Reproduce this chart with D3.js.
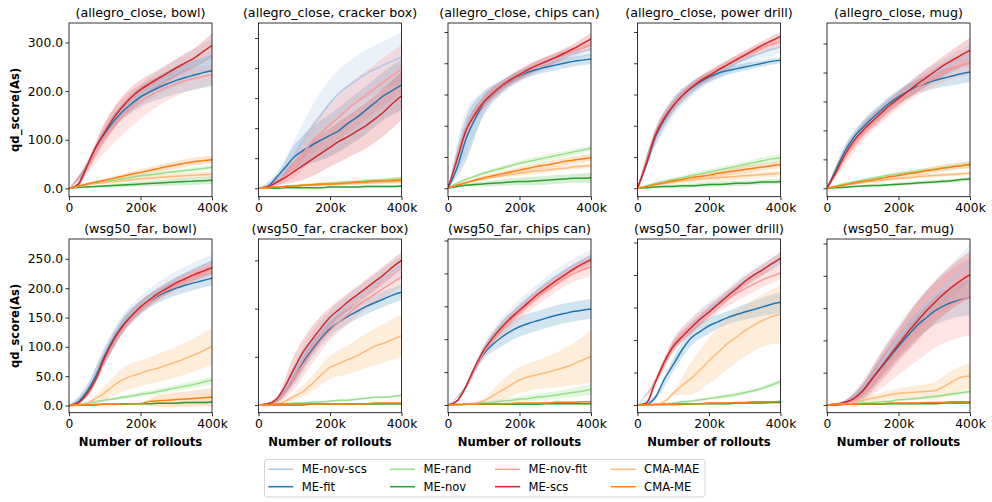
<!DOCTYPE html>
<html><head><meta charset="utf-8">
<script src="https://cdn.jsdelivr.net/npm/d3@7"></script>
<style>body{margin:0;background:#fff}svg{font-family:"DejaVu Sans",sans-serif}</style>
</head><body><svg id="c" width="992" height="502"></svg>
<script>
// ---------------- DATA ----------------
const xSteps = [0,25000,50000,75000,100000,125000,150000,175000,200000,225000,250000,275000,300000,325000,350000,375000,400000];
const bandSteps = [0,50000,100000,150000,200000,250000,300000,350000,400000];
const seriesNames = ["ME-nov-scs","ME-fit","ME-rand","ME-nov","ME-nov-fit","ME-scs","CMA-MAE","CMA-ME"];
const seriesColors = ["#aec7e8","#1f77b4","#98df8a","#2ca02c","#ff9896","#d62728","#ffbb78","#ff7f0e"];
const panelTitles = ["(allegro_close, bowl)","(allegro_close, cracker box)","(allegro_close, chips can)","(allegro_close, power drill)","(allegro_close, mug)",
  "(wsg50_far, bowl)","(wsg50_far, cracker box)","(wsg50_far, chips can)","(wsg50_far, power drill)","(wsg50_far, mug)"];
const xTickValues = [0,200000,400000];
const xTickLabels = ["0","200k","400k"];
const yLimits = [[-17,340],[-14,275],[-13.5,264.4],[-13.5,264.4],[-14.5,285.5],[-12.3,283.8],[-8,172.2],[-11.7,252.3],[-11.8,255.4],[-11.9,257]];
const yTickSets = [[0,100,200,300],[0,50,100,150,200,250],[0,50,100,150,200,250],[0,50,100,150,200,250],[0,50,100,150,200,250],
  [0,50,100,150,200,250],[0,50,100,150],[0,50,100,150,200,250],[0,50,100,150,200,250],[0,50,100,150,200,250]];
const xLabel = "Number of rollouts";
const yLabel = "qd_score(As)";

// series order in each matrix row: nov-scs, fit, rand, nov, nov-fit, scs, CMA-MAE, CMA-ME
const meanAllegroBowl = [
 [0,8,44,84,112,138,158,176,192,205,217,228,238,248,257,266,275],
 [0,8,45,85,113,138,158,174,188,198,207,215,222,228,233,238,242],
 [0,4,8,11,14,17,20,23,26,28,30,33,35,37,39,41,43],
 [0,2,3,4,5,6,7,8,9,10,11,12,13,14,15,16,17],
 [0,6,40,78,105,128,148,164,178,190,200,208,215,221,226,230,234],
 [0,8,45,85,115,145,168,188,203,215,226,237,248,258,268,281,294],
 [0,4,7,10,12,14,16,18,20,21,23,24,25,26,27,28,29],
 [0,5,9,13,17,21,25,29,33,37,41,45,48,52,55,57,59]];
const spreadAllegroBowl = [
 [0,6,12,18,22,25,28,30,32],[0,6,12,16,20,24,28,30,32],[0,1,2,3,3,4,4,4,5],[0,1,3,4,5,6,7,8,8],
 [0,10,30,38,35,30,25,22,20],[0,10,20,22,20,18,18,20,25],[0,2,3,4,5,5,6,6,6],[0,2,3,5,6,7,8,8,8]];

const meanAllegroCracker = [
 [0,2,10,30,55,80,102,122,142,158,170,180,190,198,205,212,218],
 [0,3,18,35,52,63,72,80,88,96,108,118,130,142,154,163,172],
 [0,1,2,3,4,5,6,7,8,9,10,11,12,13,14,15,16],
 [0,0,0,1,1,1,1,1,2,2,2,2,3,3,3,3,4],
 [0,2,10,22,38,58,78,92,106,118,132,144,155,166,177,188,199],
 [0,2,10,18,28,38,48,58,68,78,86,95,104,115,127,141,154],
 [0,1,2,3,4,5,5,6,7,7,8,9,9,10,11,11,12],
 [0,1,2,3,4,5,6,7,7,8,9,10,11,12,12,13,14]];
const spreadAllegroCracker = [
 [0,8,25,35,40,40,40,40,42],[0,6,20,30,35,38,40,40,42],[0,1,2,2,3,3,3,3,4],[0,0,1,1,1,1,2,2,2],
 [0,5,20,30,35,40,40,40,40],[0,5,18,28,32,35,38,40,40],[0,1,2,2,3,3,3,3,4],[0,1,2,3,3,4,4,4,5]];

const meanAllegroChips = [
 [0,40,88,115,136,150,162,172,180,188,195,200,205,210,215,219,223],
 [0,32,78,110,136,150,162,172,180,186,190,194,197,200,203,205,207],
 [0,8,14,19,24,28,32,36,40,43,46,49,52,55,58,61,64],
 [0,3,5,6,7,8,9,10,11,11,12,13,14,15,16,16,17],
 [0,45,90,117,137,151,163,173,181,189,196,202,208,214,219,224,229],
 [0,45,92,118,138,152,164,174,182,190,197,203,209,216,223,231,239],
 [0,5,9,12,15,18,20,22,24,26,28,29,31,32,34,35,36],
 [0,5,9,13,17,20,23,26,29,32,35,37,40,43,45,47,49]];
const spreadAllegroChips = [
 [0,35,20,12,10,10,10,10,10],[0,35,18,10,8,8,8,8,8],[0,2,3,4,4,5,5,5,5],[0,2,4,5,6,7,7,7,8],
 [0,10,10,8,8,8,8,8,8],[0,10,10,8,8,8,8,8,10],[0,2,3,3,4,4,4,4,4],[0,2,3,4,5,5,6,6,6]];

const meanAllegroDrill = [
 [0,37,80,108,130,146,158,169,178,186,193,200,206,212,217,222,226],
 [0,38,82,110,132,148,160,170,178,184,188,191,194,197,200,203,205],
 [0,4,8,11,14,17,20,23,26,29,32,35,38,41,44,47,49],
 [0,1,2,3,3,4,4,5,6,6,7,8,8,9,10,10,11],
 [0,42,86,113,133,149,162,173,182,190,198,206,213,219,225,230,234],
 [0,40,85,112,132,148,161,172,180,189,197,205,213,221,229,236,243],
 [0,3,6,8,10,12,13,15,16,17,18,19,20,21,22,23,24],
 [0,3,6,9,12,14,17,19,21,24,26,28,30,32,34,36,38]];
const spreadAllegroDrill = [
 [0,15,15,12,10,10,10,10,10],[0,12,12,10,8,7,6,5,5],[0,2,3,4,5,5,5,6,6],[0,2,3,3,4,4,4,4,4],
 [0,10,8,7,7,7,7,7,7],[0,8,8,7,7,7,7,7,7],[0,2,3,4,5,5,5,5,5],[0,2,3,4,5,5,6,6,6]];

const meanAllegroMug = [
 [0,30,62,86,103,118,132,145,157,169,180,190,199,208,216,223,230],
 [0,32,64,88,105,120,134,147,158,167,175,181,186,190,194,198,201],
 [0,4,8,11,14,17,20,23,25,27,29,31,33,35,37,39,41],
 [0,1,2,3,4,5,5,6,7,8,9,10,11,12,13,15,16],
 [0,24,52,76,94,110,124,138,150,162,173,183,192,200,207,212,216],
 [0,28,58,82,100,115,129,143,155,167,179,190,201,212,221,230,238],
 [0,3,6,8,10,12,14,15,17,18,20,21,22,23,24,25,26],
 [0,3,6,9,12,14,17,20,22,25,27,30,32,35,37,39,41]];
const spreadAllegroMug = [
 [0,10,12,12,12,14,15,16,18],[0,10,12,12,12,12,14,16,18],[0,2,3,3,4,4,4,5,5],[0,1,2,2,3,3,3,3,3],
 [0,12,12,12,12,14,16,18,20],[0,10,12,12,12,14,16,18,22],[0,2,2,3,3,3,3,3,3],[0,2,3,4,5,5,6,6,6]];

const meanWsgBowl = [
 [0,6,24,50,86,116,139,157,172,185,197,207,216,224,232,239,246],
 [0,6,24,50,85,114,136,153,167,178,187,194,200,205,209,213,217],
 [0,2,4,6,9,11,14,16,19,21,24,27,30,33,36,40,43],
 [0,1,1,1,2,2,2,3,3,3,4,4,4,5,5,5,6],
 [0,4,19,43,79,110,133,151,166,178,189,198,206,213,220,226,232],
 [0,4,20,45,82,112,135,153,168,180,191,200,209,216,223,229,235],
 [0,1,4,12,22,34,44,50,55,60,64,69,74,80,86,93,101],
 [0,1,1,2,2,2,3,3,3,7,8,9,10,11,12,13,14]];
const spreadWsgBowl = [
 [0,10,15,15,14,13,13,12,12],[0,10,14,14,12,12,12,12,12],[0,1,2,3,4,5,5,6,6],[0,1,1,1,1,1,2,2,2],
 [0,6,10,10,10,10,10,10,10],[0,5,10,10,10,10,10,10,10],[0,2,12,20,22,24,26,28,32],[0,1,1,1,2,10,12,14,15]];

const meanWsgCracker = [
 [0,1,5,18,35,52,66,78,88,96,104,111,118,125,132,139,145],
 [0,1,4,14,28,44,57,69,79,86,92,97,102,106,110,114,117],
 [0,0,1,1,2,2,3,3,4,5,5,6,7,8,8,9,10],
 [0,0,0,0,0,0,1,1,1,1,1,1,1,1,1,1,1],
 [0,1,4,14,28,42,55,67,77,86,94,102,109,115,121,127,133],
 [0,1,6,20,38,55,68,80,91,99,107,114,121,128,135,143,150],
 [0,0,1,4,9,14,22,31,39,43,47,51,56,61,64,68,72],
 [0,0,1,1,1,1,1,1,1,1,1,1,1,2,2,2,2]];
const spreadWsgCracker = [
 [0,2,8,10,10,10,10,10,10],[0,2,7,8,8,8,8,8,8],[0,0,1,1,1,1,1,1,1],[0,0,0,0,0,0,0,0,0],
 [0,2,12,12,10,10,10,10,10],[0,2,14,14,10,9,9,9,9],[0,1,4,8,12,15,18,20,22],[0,0,0,1,1,1,1,1,1]];

const meanWsgChips = [
 [0,6,28,58,84,106,122,137,150,162,174,185,195,204,212,219,226],
 [0,6,28,56,78,92,103,112,119,124,128,132,136,139,142,144,146],
 [0,0,1,2,3,4,6,7,9,10,12,13,15,17,19,21,24],
 [0,0,1,1,1,1,1,1,1,1,1,2,2,2,2,2,2],
 [0,6,27,56,80,100,115,129,141,153,164,174,183,192,199,205,210],
 [0,6,28,58,83,102,118,132,144,156,168,178,188,197,206,214,221],
 [0,0,1,3,6,14,22,30,38,43,46,49,53,57,62,68,74],
 [0,1,1,1,2,2,2,2,3,3,3,3,4,4,4,5,5]];
const spreadWsgChips = [
 [0,2,8,10,10,10,10,10,10],[0,2,8,14,15,15,15,15,15],[0,0,2,3,4,5,6,7,8],[0,0,0,0,1,1,1,1,1],
 [0,2,8,12,12,12,12,12,14],[0,2,6,8,8,8,8,8,8],[0,0,4,15,20,22,26,32,40],[0,1,1,1,1,1,1,1,1]];

const meanWsgDrill = [
 [0,3,37,68,92,108,122,135,147,158,169,180,191,200,209,216,223],
 [0,1,12,40,62,85,103,113,122,128,134,139,143,147,151,155,158],
 [0,1,1,2,3,5,6,8,10,12,14,16,19,22,26,31,36],
 [0,0,1,1,1,1,2,2,2,2,2,3,3,3,3,4,4],
 [0,3,37,68,92,108,121,133,144,154,163,171,179,186,193,198,203],
 [0,3,35,66,90,105,119,132,143,155,167,178,190,200,208,217,226],
 [0,0,1,5,18,30,41,54,68,81,94,104,114,123,130,136,140],
 [0,0,1,1,1,2,2,2,3,3,3,4,4,5,5,5,6]];
const spreadWsgDrill = [
 [0,4,10,12,12,10,10,10,10],[0,3,10,12,12,10,12,14,16],[0,0,1,2,2,3,3,3,4],[0,0,0,1,1,1,1,1,1],
 [0,4,10,12,12,12,12,12,10],[0,3,8,8,8,8,8,8,10],[0,0,3,25,35,40,40,40,45],[0,0,1,1,1,1,1,1,1]];

const meanWsgMug = [
 [0,1,4,10,24,43,63,84,104,122,138,154,168,181,194,207,220],
 [0,1,4,10,22,40,57,74,91,107,122,134,145,153,159,163,167],
 [0,0,1,2,3,4,5,6,8,9,10,12,13,15,17,19,21],
 [0,0,1,1,1,1,1,2,2,2,2,2,2,3,3,3,3],
 [0,1,3,8,18,34,50,66,82,98,113,127,138,148,156,162,168],
 [0,1,4,10,22,40,58,76,94,112,128,144,158,171,183,193,202],
 [0,1,2,4,7,10,13,16,18,19,20,21,22,28,36,43,45],
 [0,1,1,1,2,2,2,3,3,3,3,4,4,4,5,5,5]];
const spreadWsgMug = [
 [0,3,10,18,20,22,24,26,28],[0,3,10,15,18,20,22,25,28],[0,0,1,1,2,2,2,3,3],[0,0,0,1,1,1,1,1,1],
 [0,3,12,25,35,45,50,55,60],[0,4,14,22,26,30,32,34,36],[0,1,3,6,8,10,14,18,20],[0,0,1,1,1,1,1,1,1]];

// ---------------- TABLE ----------------
const means = [meanAllegroBowl,meanAllegroCracker,meanAllegroChips,meanAllegroDrill,meanAllegroMug,
  meanWsgBowl,meanWsgCracker,meanWsgChips,meanWsgDrill,meanWsgMug];
const spreads = [spreadAllegroBowl,spreadAllegroCracker,spreadAllegroChips,spreadAllegroDrill,spreadAllegroMug,
  spreadWsgBowl,spreadWsgCracker,spreadWsgChips,spreadWsgDrill,spreadWsgMug];

// ---------------- LAYOUT ----------------
const colLeft = [69, 258.5, 448, 637.5, 827];
const rowTop = [23, 239];
const PW = 143, PH = 173.7;
const svg = d3.select("#c");
const defs = svg.append("defs");
const lightSet = new Set([0,2,4,6]);

means.forEach((mean, p) => {
  const r = Math.floor(p/5), c = p%5;
  const g = svg.append("g").attr("transform", `translate(${colLeft[c]},${rowTop[r]})`);
  const x = d3.scaleLinear().domain([0,400000]).range([0,PW]);
  const y = d3.scaleLinear().domain(yLimits[p]).range([PH,0]);
  defs.append("clipPath").attr("id","clip"+p).append("rect").attr("width",PW).attr("height",PH);
  const plot = g.append("g").attr("clip-path",`url(#clip${p})`);
  const area = d3.area().x((d,i)=>x(bandSteps[i])).y0(d=>y(d[0])).y1(d=>y(d[1])).curve(d3.curveMonotoneX);
  const line = d3.line().x((d,i)=>x(xSteps[i])).y(d=>y(d)).curve(d3.curveMonotoneX);
  mean.forEach((m, s) => {
    const band = spreads[p][s].map((sp,i)=>[m[i*2]-sp, m[i*2]+sp]);
    plot.append("path").attr("d", area(band)).attr("fill", seriesColors[s])
      .attr("fill-opacity", lightSet.has(s) ? 0.26 : 0.2).attr("stroke","none");
  });
  mean.forEach((m, s) => {
    plot.append("path").attr("d", line(m)).attr("fill","none").attr("stroke", seriesColors[s])
      .attr("stroke-width",1.5);
  });
  g.append("rect").attr("width",PW).attr("height",PH).attr("fill","none").attr("stroke","#000").attr("stroke-width",0.8);
  const ya = g.append("g").call(d3.axisLeft(y).tickValues(yTickSets[p]).tickSize(3.5).tickPadding(2.5)
      .tickFormat(c===0 ? (d=>d.toFixed(1)) : (()=>"")));
  ya.select(".domain").remove();
  ya.selectAll("line").attr("stroke","#000").attr("stroke-width",0.8);
  ya.selectAll("text").attr("font-size","12.3px").attr("font-family","DejaVu Sans").attr("fill","#000");
  const xa = g.append("g").attr("transform",`translate(0,${PH})`)
    .call(d3.axisBottom(x).tickValues(xTickValues).tickSize(3.5).tickPadding(3).tickFormat((d,i)=>xTickLabels[i]));
  xa.select(".domain").remove();
  xa.selectAll("line").attr("stroke","#000").attr("stroke-width",0.8);
  xa.selectAll("text").attr("font-size","12.3px").attr("font-family","DejaVu Sans").attr("fill","#000");
  g.append("text").attr("x",PW/2).attr("y",-6.5).attr("text-anchor","middle")
    .attr("font-size","12.7px").attr("fill","#000").text(panelTitles[p]);
  if (r===1) {
    g.append("text").attr("x",PW/2).attr("y",PH+33.3).attr("text-anchor","middle")
      .attr("font-size","11.6px").attr("font-weight","bold").attr("fill","#000").text(xLabel);
  }
  if (c===0) {
    svg.append("text").attr("transform",`translate(18.5,${rowTop[r]+PH/2}) rotate(-90)`)
      .attr("text-anchor","middle").attr("font-size","11.6px").attr("font-weight","bold").attr("fill","#000").text(yLabel);
  }
});

// ---------------- LEGEND ----------------
const lg = svg.append("g");
lg.append("rect").attr("x",264.5).attr("y",459.5).attr("width",440.5).attr("height",37.5).attr("rx",2.5)
  .attr("fill","#fff").attr("stroke","#d0d0d0").attr("stroke-width",0.9);
const legX = [268.3, 390, 495, 610.7];
const legY = [469.3, 486.7];
seriesNames.forEach((name, s) => {
  const col = Math.floor(s/2), row = s%2;
  lg.append("line").attr("x1",legX[col]).attr("x2",legX[col]+25).attr("y1",legY[row]).attr("y2",legY[row])
    .attr("stroke",seriesColors[s]).attr("stroke-width",1.5);
  lg.append("text").attr("x",legX[col]+33.4).attr("y",legY[row]).attr("dy","0.36em")
    .attr("font-size","11.6px").attr("fill","#000").text(name);
});
</script></body></html>
